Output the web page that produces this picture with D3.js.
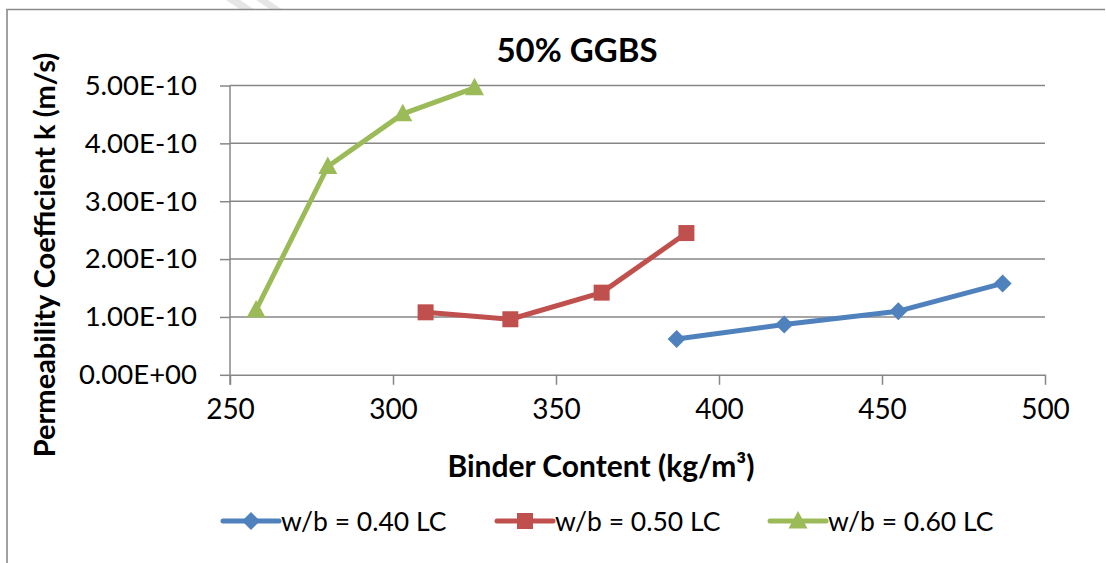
<!DOCTYPE html>
<html>
<head>
<meta charset="utf-8">
<script src="https://cdn.jsdelivr.net/npm/d3@7"></script>
<style>
  html, body { margin: 0; padding: 0; background: #fff; }
  svg { display: block; font-family: Lato, "Open Sans", sans-serif; }
</style>
</head>
<body>
<svg id="chart" width="1106" height="563"></svg>
<script>
// Binder content (kg/m³) and permeability coefficient k (m/s) per w/b ratio, 50% GGBS mixes
const binderW40 = [387, 420, 455, 487];
const kW40 = [0.62e-10, 0.87e-10, 1.10e-10, 1.58e-10];

const binderW50 = [310, 336, 364, 390];
const kW50 = [1.08e-10, 0.96e-10, 1.42e-10, 2.45e-10];

const binderW60 = [258, 280, 303, 325];
const kW60 = [1.12e-10, 3.60e-10, 4.51e-10, 4.96e-10];

const seriesNames = ["w/b = 0.40 LC", "w/b = 0.50 LC", "w/b = 0.60 LC"];

const xTicks = [250, 300, 350, 400, 450, 500];
const yTicks = [0, 1e-10, 2e-10, 3e-10, 4e-10, 5e-10];
const yTickLabels = ["0.00E+00", "1.00E-10", "2.00E-10", "3.00E-10", "4.00E-10", "5.00E-10"];

const chartTitle = "50% GGBS";
const xTitle = "Binder Content (kg/m³)";
const yTitle = "Permeability Coefficient k (m/s)";

const colors = ["#4F81BD", "#C0504D", "#9BBB59"];
const gridColor = "#878787";

const svg = d3.select("#chart");

// faint diagonal watermark stripes at the very top
svg.append("g").selectAll("path")
  .data([[226, 0, 240, 0, 255, 10, 241, 10], [256, 0, 268, 0, 283, 10, 271, 10]])
  .join("path")
  .attr("d", p => `M${p[0]},${p[1]}L${p[2]},${p[3]}L${p[4]},${p[5]}L${p[6]},${p[7]}Z`)
  .attr("fill", "#e6e6e6");

// chart frame (top and left edges visible)
svg.append("path")
  .attr("d", "M7,563V9.5H1105")
  .attr("fill", "none")
  .attr("stroke", "#8a8a8a")
  .attr("stroke-width", 1.6);

const x = d3.scaleLinear().domain([250, 500]).range([230, 1045]);
const y = d3.scaleLinear().domain([0, 5e-10]).range([374.8, 85.5]);

// horizontal gridlines
svg.append("g").selectAll("line")
  .data(yTicks.slice(1))
  .join("line")
  .attr("x1", x(250)).attr("x2", x(500))
  .attr("y1", d => y(d)).attr("y2", d => y(d))
  .attr("stroke", gridColor).attr("stroke-width", 1.5);

// x axis
const xAxis = svg.append("g")
  .attr("transform", `translate(0,${y(0)})`)
  .call(d3.axisBottom(x).tickValues(xTicks).tickSize(10).tickSizeOuter(0).tickPadding(14).tickFormat(d3.format("d")));
xAxis.select(".domain").attr("stroke", gridColor).attr("stroke-width", 1.5);
xAxis.selectAll(".tick line").attr("stroke", gridColor).attr("stroke-width", 1.5);
xAxis.selectAll(".tick text").attr("font-size", 28).attr("fill", "#000").attr("font-family", "Lato");

// y axis
const yAxis = svg.append("g")
  .attr("transform", `translate(${x(250)},0)`)
  .call(d3.axisLeft(y).tickValues(yTicks).tickSize(10).tickSizeOuter(0).tickPadding(23)
    .tickFormat((d, i) => yTickLabels[i]));
yAxis.select(".domain").attr("stroke", gridColor).attr("stroke-width", 1.5)
  .attr("d", `M0,${y(5e-10)}V${y(0) + 10}`);
yAxis.selectAll(".tick line").attr("stroke", gridColor).attr("stroke-width", 1.5);
yAxis.selectAll(".tick text").attr("font-size", 27.5).attr("fill", "#000").attr("font-family", "Lato");

// titles
svg.append("text")
  .attr("x", 577).attr("y", 62)
  .attr("text-anchor", "middle")
  .attr("font-size", 33).attr("font-weight", "bold")
  .text(chartTitle);

svg.append("text")
  .attr("x", 601).attr("y", 477)
  .attr("text-anchor", "middle")
  .attr("font-size", 30).attr("font-weight", "bold")
  .text(xTitle);

svg.append("text")
  .attr("transform", "translate(55,255) rotate(-90)")
  .attr("text-anchor", "middle")
  .attr("font-size", 29).attr("font-weight", "bold")
  .text(yTitle);

// marker shapes
const markerPath = [
  "M0,-9L9,0L0,9L-9,0Z",          // diamond
  "M-8,-8H8V8H-8Z",               // square
  "M0,-10L9.5,7.5H-9.5Z"          // triangle
];

const series = [
  { xs: binderW40, ks: kW40 },
  { xs: binderW50, ks: kW50 },
  { xs: binderW60, ks: kW60 }
];

const line = d3.line().x(d => x(d[0])).y(d => y(d[1]));

series.forEach((s, i) => {
  const pts = s.xs.map((v, j) => [v, s.ks[j]]);
  const g = svg.append("g");
  g.append("path")
    .attr("d", line(pts))
    .attr("fill", "none")
    .attr("stroke", colors[i])
    .attr("stroke-width", 5)
    .attr("stroke-linejoin", "round");
  g.selectAll("path.m")
    .data(pts)
    .join("path")
    .attr("class", "m")
    .attr("transform", d => `translate(${x(d[0])},${y(d[1])})`)
    .attr("d", markerPath[i])
    .attr("fill", colors[i]);
});

// legend
const legendX = [223, 497, 770];
const legendY = 521;
seriesNames.forEach((name, i) => {
  const g = svg.append("g").attr("transform", `translate(${legendX[i]},${legendY})`);
  g.append("line")
    .attr("x1", 0).attr("x2", 56)
    .attr("stroke", colors[i]).attr("stroke-width", 5).attr("stroke-linecap", "round");
  g.append("path")
    .attr("transform", "translate(28,0)")
    .attr("d", markerPath[i])
    .attr("fill", colors[i]);
  g.append("text")
    .attr("x", 58).attr("y", 9.5)
    .attr("font-size", 26.5)
    .text(name);
});
</script>
</body>
</html>
